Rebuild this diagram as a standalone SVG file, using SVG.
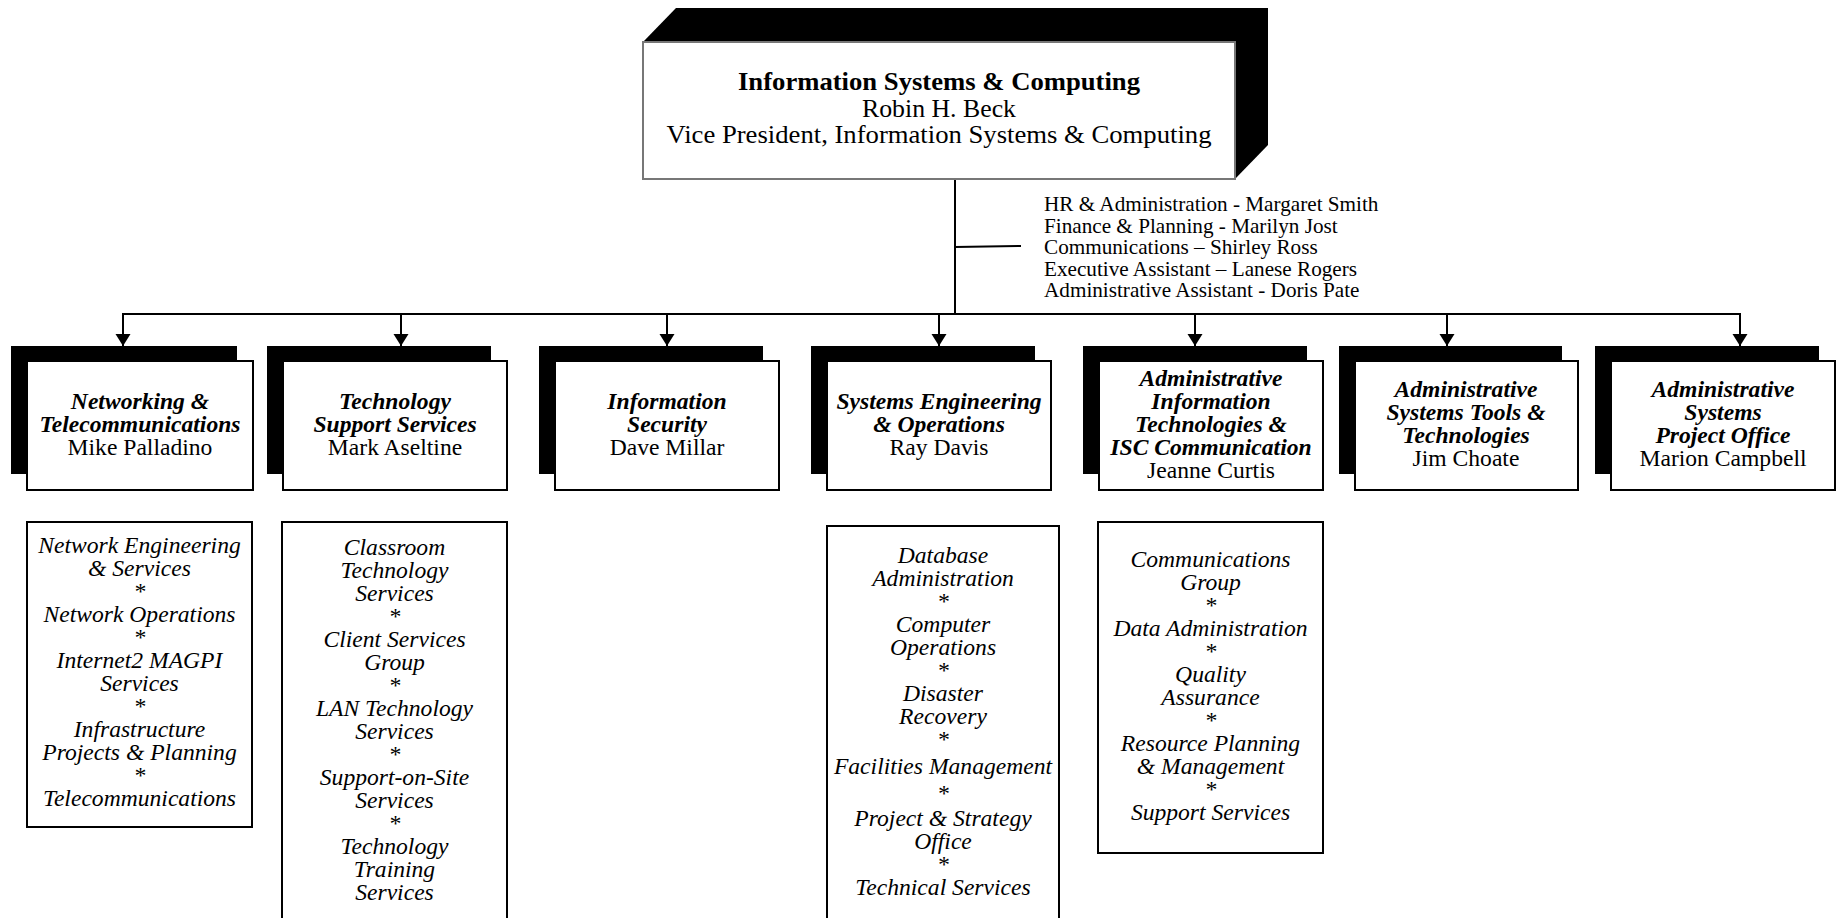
<svg xmlns="http://www.w3.org/2000/svg" width="1836" height="918" viewBox="0 0 1836 918">
<style>
text { font-family: "Liberation Serif", "Times New Roman", serif; fill: #000; }
.t { font-size: 25.5px; text-anchor: middle; }
.tb { font-weight: bold; }
.staff { font-size: 21.2px; }
.h { font-size: 23.6px; text-anchor: middle; }
.hb { font-weight: bold; font-style: italic; }
.s { font-size: 23.6px; font-style: italic; text-anchor: middle; }
.box { fill: #fff; stroke: #000; stroke-width: 2; }
.shadow { fill: #000; }
.conn { stroke: #000; stroke-width: 2; fill: none; }
</style>
<defs>
<marker id="arr" markerUnits="userSpaceOnUse" markerWidth="13" markerHeight="16" refX="12" refY="7.5" orient="auto">
<path d="M0,0 L12,7.5 L0,15 z" fill="#000"/>
</marker>
</defs>
<rect width="1836" height="918" fill="#fff"/>

<g id="connectors">
<line class="conn" x1="955" y1="179" x2="955" y2="314"/>
<line class="conn" x1="955" y1="247" x2="1021" y2="246"/>
<line class="conn" x1="122" y1="314" x2="1741" y2="314"/>
<line class="conn" x1="123" y1="314" x2="123" y2="346" marker-end="url(#arr)"/>
<line class="conn" x1="401" y1="314" x2="401" y2="346" marker-end="url(#arr)"/>
<line class="conn" x1="667" y1="314" x2="667" y2="346" marker-end="url(#arr)"/>
<line class="conn" x1="939" y1="314" x2="939" y2="346" marker-end="url(#arr)"/>
<line class="conn" x1="1195" y1="314" x2="1195" y2="346" marker-end="url(#arr)"/>
<line class="conn" x1="1447" y1="314" x2="1447" y2="346" marker-end="url(#arr)"/>
<line class="conn" x1="1740" y1="314" x2="1740" y2="346" marker-end="url(#arr)"/>
</g>

<g id="top">
<polygon class="shadow" points="643,42 676,8 1268,8 1268,145 1235,179"/>
<rect x="643" y="42" width="592" height="137" fill="#fff" stroke="#777" stroke-width="2"/>
<text class="t tb" x="939" y="90" textLength="402" lengthAdjust="spacingAndGlyphs">Information Systems &amp; Computing</text>
<text class="t" x="939" y="116.5" textLength="154" lengthAdjust="spacingAndGlyphs">Robin H. Beck</text>
<text class="t" x="939" y="143" textLength="545" lengthAdjust="spacingAndGlyphs">Vice President, Information Systems &amp; Computing</text>
</g>

<g id="staff">
<text class="staff" x="1044" y="211">HR &amp; Administration - Margaret Smith</text>
<text class="staff" x="1044" y="232.5">Finance &amp; Planning - Marilyn Jost</text>
<text class="staff" x="1044" y="254">Communications – Shirley Ross</text>
<text class="staff" x="1044" y="275.5">Executive Assistant – Lanese Rogers</text>
<text class="staff" x="1044" y="297">Administrative Assistant - Doris Pate</text>
</g>

<g id="networking">
<rect class="shadow" x="11" y="346" width="226" height="128"/>
<rect class="box" x="27" y="361" width="226" height="129"/>
<text class="h hb" x="140" y="409">Networking &amp;</text>
<text class="h hb" x="140" y="432">Telecommunications</text>
<text class="h" x="140" y="455">Mike Palladino</text>
</g>

<g id="tss">
<rect class="shadow" x="267" y="346" width="224" height="128"/>
<rect class="box" x="283" y="361" width="224" height="129"/>
<text class="h hb" x="395" y="409">Technology</text>
<text class="h hb" x="395" y="432">Support Services</text>
<text class="h" x="395" y="455">Mark Aseltine</text>
</g>

<g id="security">
<rect class="shadow" x="539" y="346" width="224" height="128"/>
<rect class="box" x="555" y="361" width="224" height="129"/>
<text class="h hb" x="667" y="409">Information</text>
<text class="h hb" x="667" y="432">Security</text>
<text class="h" x="667" y="455">Dave Millar</text>
</g>

<g id="seo">
<rect class="shadow" x="811" y="346" width="224" height="128"/>
<rect class="box" x="827" y="361" width="224" height="129"/>
<text class="h hb" x="939" y="409">Systems Engineering</text>
<text class="h hb" x="939" y="432">&amp; Operations</text>
<text class="h" x="939" y="455">Ray Davis</text>
</g>

<g id="ait">
<rect class="shadow" x="1083" y="346" width="224" height="128"/>
<rect class="box" x="1099" y="361" width="224" height="129"/>
<text class="h hb" x="1211" y="386">Administrative</text>
<text class="h hb" x="1211" y="409">Information</text>
<text class="h hb" x="1211" y="432">Technologies &amp;</text>
<text class="h hb" x="1211" y="455">ISC Communication</text>
<text class="h" x="1211" y="478">Jeanne Curtis</text>
</g>

<g id="astt">
<rect class="shadow" x="1339" y="346" width="223" height="128"/>
<rect class="box" x="1355" y="361" width="223" height="129"/>
<text class="h hb" x="1466" y="397">Administrative</text>
<text class="h hb" x="1466" y="420">Systems Tools &amp;</text>
<text class="h hb" x="1466" y="443">Technologies</text>
<text class="h" x="1466" y="466">Jim Choate</text>
</g>

<g id="aspo">
<rect class="shadow" x="1595" y="346" width="224" height="128"/>
<rect class="box" x="1611" y="361" width="224" height="129"/>
<text class="h hb" x="1723" y="397">Administrative</text>
<text class="h hb" x="1723" y="420">Systems</text>
<text class="h hb" x="1723" y="443">Project Office</text>
<text class="h" x="1723" y="466">Marion Campbell</text>
</g>

<g id="net-units">
<rect class="box" x="27" y="522" width="225" height="305"/>
<text class="s" x="139.5" y="553">Network Engineering</text>
<text class="s" x="139.5" y="576">&amp; Services</text>
<text class="s" x="139.5" y="599">*</text>
<text class="s" x="139.5" y="622">Network Operations</text>
<text class="s" x="139.5" y="645">*</text>
<text class="s" x="139.5" y="668">Internet2 MAGPI</text>
<text class="s" x="139.5" y="691">Services</text>
<text class="s" x="139.5" y="714">*</text>
<text class="s" x="139.5" y="737">Infrastructure</text>
<text class="s" x="139.5" y="760">Projects &amp; Planning</text>
<text class="s" x="139.5" y="783">*</text>
<text class="s" x="139.5" y="806">Telecommunications</text>
</g>

<g id="tss-units">
<rect class="box" x="282" y="522" width="225" height="420"/>
<text class="s" x="394.5" y="555">Classroom</text>
<text class="s" x="394.5" y="578">Technology</text>
<text class="s" x="394.5" y="601">Services</text>
<text class="s" x="394.5" y="624">*</text>
<text class="s" x="394.5" y="647">Client Services</text>
<text class="s" x="394.5" y="670">Group</text>
<text class="s" x="394.5" y="693">*</text>
<text class="s" x="394.5" y="716">LAN Technology</text>
<text class="s" x="394.5" y="739">Services</text>
<text class="s" x="394.5" y="762">*</text>
<text class="s" x="394.5" y="785">Support-on-Site</text>
<text class="s" x="394.5" y="808">Services</text>
<text class="s" x="394.5" y="831">*</text>
<text class="s" x="394.5" y="854">Technology</text>
<text class="s" x="394.5" y="877">Training</text>
<text class="s" x="394.5" y="900">Services</text>
</g>

<g id="seo-units">
<rect class="box" x="827" y="526" width="232" height="420"/>
<text class="s" x="943" y="563">Database</text>
<text class="s" x="943" y="586">Administration</text>
<text class="s" x="943" y="609">*</text>
<text class="s" x="943" y="632">Computer</text>
<text class="s" x="943" y="655">Operations</text>
<text class="s" x="943" y="678">*</text>
<text class="s" x="943" y="701">Disaster</text>
<text class="s" x="943" y="724">Recovery</text>
<text class="s" x="943" y="747">*</text>
<text class="s" x="943" y="774">Facilities Management</text>
<text class="s" x="943" y="801">*</text>
<text class="s" x="943" y="826">Project &amp; Strategy</text>
<text class="s" x="943" y="849">Office</text>
<text class="s" x="943" y="872">*</text>
<text class="s" x="943" y="895">Technical Services</text>
</g>

<g id="ait-units">
<rect class="box" x="1098" y="522" width="225" height="331"/>
<text class="s" x="1210.5" y="567">Communications</text>
<text class="s" x="1210.5" y="590">Group</text>
<text class="s" x="1210.5" y="613">*</text>
<text class="s" x="1210.5" y="636">Data Administration</text>
<text class="s" x="1210.5" y="659">*</text>
<text class="s" x="1210.5" y="682">Quality</text>
<text class="s" x="1210.5" y="705">Assurance</text>
<text class="s" x="1210.5" y="728">*</text>
<text class="s" x="1210.5" y="751">Resource Planning</text>
<text class="s" x="1210.5" y="774">&amp; Management</text>
<text class="s" x="1210.5" y="797">*</text>
<text class="s" x="1210.5" y="820">Support Services</text>
</g>
</svg>
